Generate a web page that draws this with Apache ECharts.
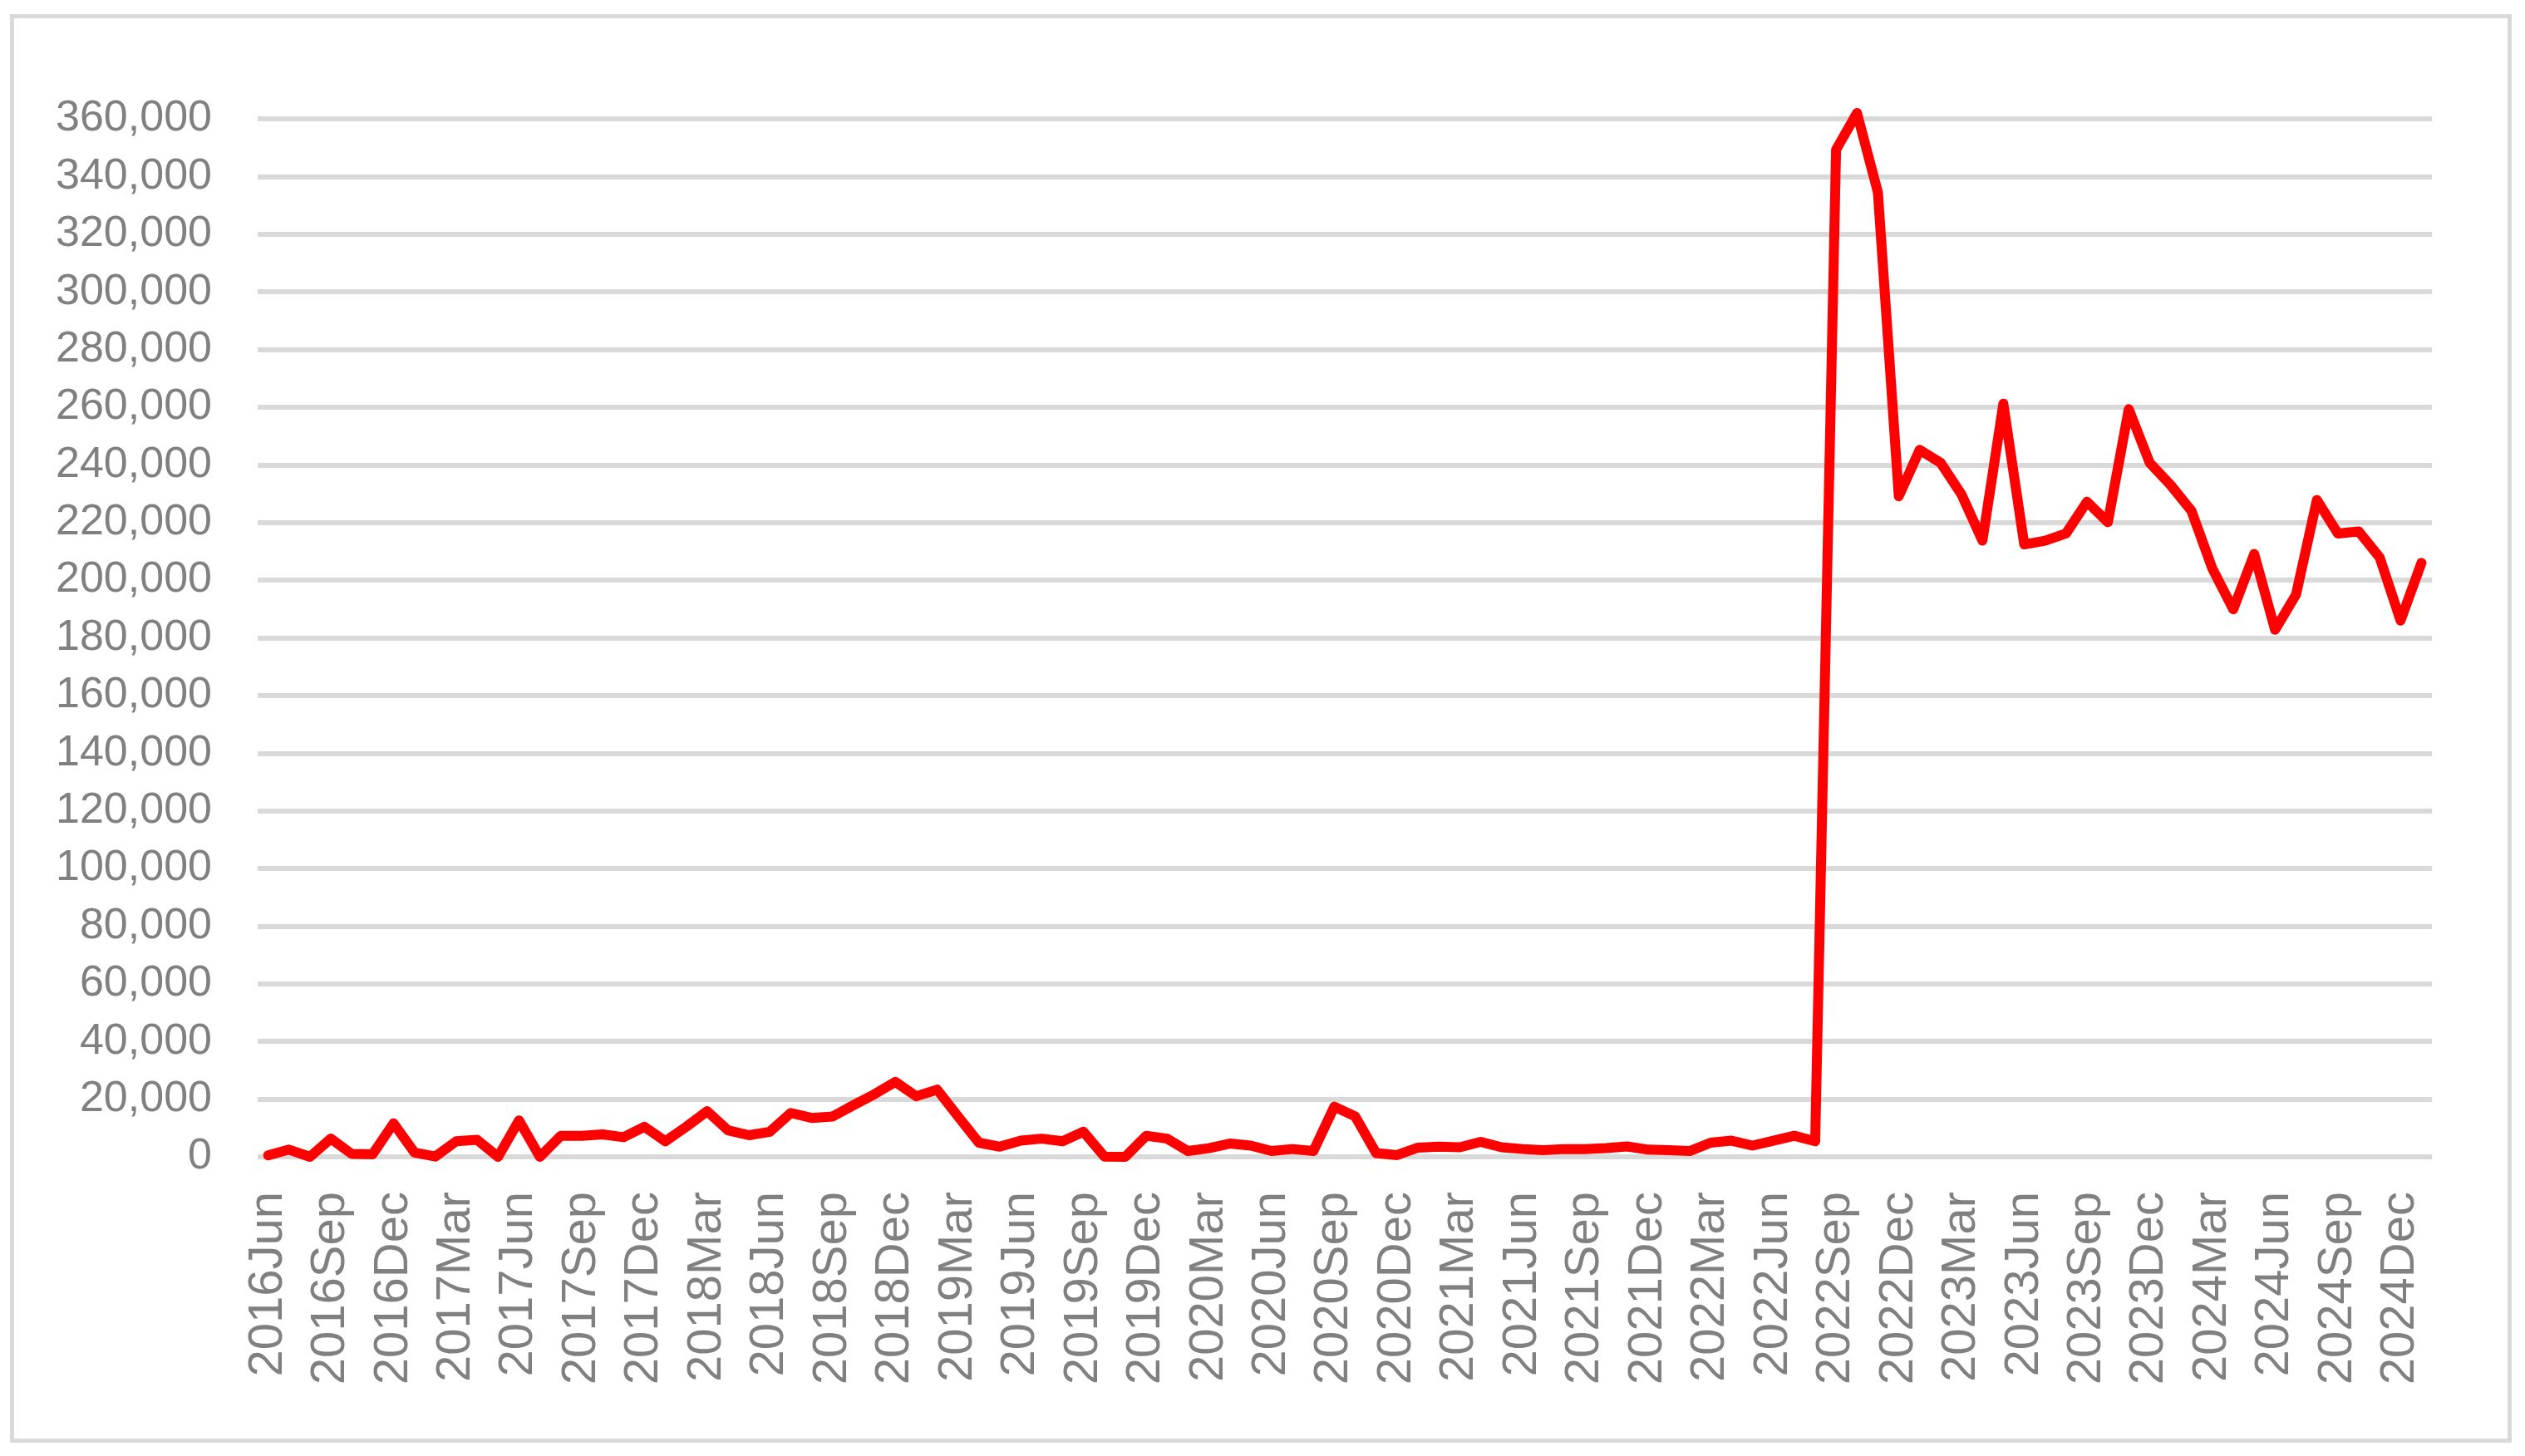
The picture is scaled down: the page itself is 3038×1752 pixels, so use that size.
<!DOCTYPE html>
<html>
<head>
<meta charset="utf-8">
<script src="https://cdn.jsdelivr.net/npm/echarts@6/dist/echarts.min.js"></script>
<style>
html,body{margin:0;padding:0;background:#fff;}
#chart{width:3038px;height:1752px;}
</style>
</head>
<body>
<div id="chart"></div>
<script>
const categories = [
"2016Jun","2016Jul","2016Aug","2016Sep","2016Oct","2016Nov","2016Dec",
"2017Jan","2017Feb","2017Mar","2017Apr","2017May","2017Jun","2017Jul","2017Aug","2017Sep","2017Oct","2017Nov","2017Dec",
"2018Jan","2018Feb","2018Mar","2018Apr","2018May","2018Jun","2018Jul","2018Aug","2018Sep","2018Oct","2018Nov","2018Dec",
"2019Jan","2019Feb","2019Mar","2019Apr","2019May","2019Jun","2019Jul","2019Aug","2019Sep","2019Oct","2019Nov","2019Dec",
"2020Jan","2020Feb","2020Mar","2020Apr","2020May","2020Jun","2020Jul","2020Aug","2020Sep","2020Oct","2020Nov","2020Dec",
"2021Jan","2021Feb","2021Mar","2021Apr","2021May","2021Jun","2021Jul","2021Aug","2021Sep","2021Oct","2021Nov","2021Dec",
"2022Jan","2022Feb","2022Mar","2022Apr","2022May","2022Jun","2022Jul","2022Aug","2022Sep","2022Oct","2022Nov","2022Dec",
"2023Jan","2023Feb","2023Mar","2023Apr","2023May","2023Jun","2023Jul","2023Aug","2023Sep","2023Oct","2023Nov","2023Dec",
"2024Jan","2024Feb","2024Mar","2024Apr","2024May","2024Jun","2024Jul","2024Aug","2024Sep","2024Oct","2024Nov","2024Dec",
"2025Jan"
];
const values = [
500,2500,0,6300,1000,900,11600,
1500,100,5400,5900,0,12600,0,7300,7300,7800,6800,10400,
5400,10400,15800,9200,7500,8700,15200,13500,14000,17900,21700,26000,
21000,23300,14000,4900,3500,5600,6300,5400,8700,100,0,7300,
6300,2000,3000,4600,3900,2000,2700,2000,17400,14000,1300,600,
3200,3500,3300,5200,3300,2700,2300,2700,2700,3000,3600,2500,
2300,2000,4900,5600,3900,5600,7300,5400,349300,362000,334500,229100,
245200,240700,229700,213700,261200,212400,213700,216200,227200,220100,259300,240700,
233000,224000,204000,189900,209100,182800,195000,227800,216200,216900,207900,186000,
206000
];
const yMin = 0, yMax = 360000, yStep = 20000;

const chart = echarts.init(document.getElementById('chart'), null, {renderer:'canvas'});
chart.setOption({
  animation:false,
  backgroundColor:'#ffffff',
  graphic:[{
    type:'rect', left:12, top:17, z:-10,
    shape:{x:0,y:0,width:3005,height:1714},
    style:{fill:'#ffffff', stroke:'#d9d9d9', lineWidth:5}
  }],
  grid:{left:310, right:112, top:143, bottom:360, containLabel:false},
  xAxis:{
    type:'category', data:categories, boundaryGap:true,
    axisLine:{show:false}, axisTick:{show:false},
    axisLabel:{interval:2, rotate:90, margin:42, color:'#808080',
      fontFamily:'Liberation Sans', fontSize:58}
  },
  yAxis:{
    type:'value', min:yMin, max:yMax, interval:yStep,
    axisLine:{show:false}, axisTick:{show:false},
    splitLine:{lineStyle:{color:'#d9d9d9', width:6}},
    axisLabel:{margin:55, color:'#808080', fontFamily:'Liberation Sans', fontSize:52,
      formatter:v=>v.toLocaleString('en-US')}
  },
  series:[{
    type:'line', data:values, symbol:'none', clip:false,
    lineStyle:{color:'#ff0000', width:12, join:'round', cap:'round'}
  }]
});
</script>
</body>
</html>
